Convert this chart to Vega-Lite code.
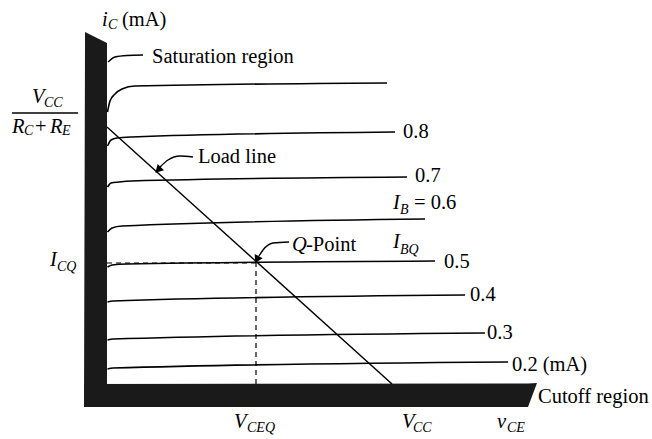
{
  "$schema": "https://vega.github.io/schema/vega-lite/v6.json",
  "autosize": {"type": "fit", "contains": "padding"},
  "width": 652,
  "height": 439,
  "padding": 0,
  "background": "white",
  "config": {"view": {"stroke": null}},
  "datasets": {
    "curves": [
      {"c": "top", "X": 0.5, "Y": 272}, {"c": "top", "X": 3, "Y": 283}, {"c": "top", "X": 8, "Y": 290}, {"c": "top", "X": 15, "Y": 295}, {"c": "top", "X": 28, "Y": 298}, {"c": "top", "X": 280, "Y": 301},
      {"c": "0.8", "X": 0.5, "Y": 238}, {"c": "0.8", "X": 4, "Y": 244}, {"c": "0.8", "X": 10, "Y": 246}, {"c": "0.8", "X": 25, "Y": 247}, {"c": "0.8", "X": 288, "Y": 252},
      {"c": "0.7", "X": 0.5, "Y": 197}, {"c": "0.7", "X": 4, "Y": 201}, {"c": "0.7", "X": 12, "Y": 202}, {"c": "0.7", "X": 25, "Y": 203}, {"c": "0.7", "X": 300, "Y": 207},
      {"c": "0.6", "X": 0.5, "Y": 152}, {"c": "0.6", "X": 5, "Y": 156}, {"c": "0.6", "X": 15, "Y": 158}, {"c": "0.6", "X": 318, "Y": 165},
      {"c": "0.5", "X": 0.5, "Y": 117}, {"c": "0.5", "X": 5, "Y": 119}, {"c": "0.5", "X": 20, "Y": 120}, {"c": "0.5", "X": 328, "Y": 123},
      {"c": "0.4", "X": 0.5, "Y": 82}, {"c": "0.4", "X": 6, "Y": 83}, {"c": "0.4", "X": 358, "Y": 89},
      {"c": "0.3", "X": 0.5, "Y": 44}, {"c": "0.3", "X": 6, "Y": 45}, {"c": "0.3", "X": 378, "Y": 51},
      {"c": "0.2", "X": 0.5, "Y": 15}, {"c": "0.2", "X": 6, "Y": 16}, {"c": "0.2", "X": 401, "Y": 22}
    ],
    "vbar": [
      {"Y": 352, "X": -22, "X2": -22},
      {"Y": 341, "X": -22, "X2": 0},
      {"Y": -23, "X": -23, "X2": 0}
    ],
    "hbar": [
      {"X": -23, "Y": 0, "Y2": -23},
      {"X": 421, "Y": 0.5, "Y2": -23},
      {"X": 430, "Y": 1, "Y2": 1}
    ],
    "load": [
      {"X": 0, "Y": 257},
      {"X": 285, "Y": 0}
    ],
    "dashV": [{"X": 149, "Y": 0, "Y2": 121}],
    "dashH": [{"X": 0, "X2": 149, "Y": 121}],
    "frac": [{"X": -95, "X2": -29, "Y": 271}],
    "pointers": [
      {"p": "sat", "o": 1, "X": 1, "Y": 322}, {"p": "sat", "o": 2, "X": 8, "Y": 327}, {"p": "sat", "o": 3, "X": 20, "Y": 328.5}, {"p": "sat", "o": 4, "X": 36, "Y": 329},
      {"p": "load", "o": 1, "X": 86, "Y": 227}, {"p": "load", "o": 2, "X": 73, "Y": 228}, {"p": "load", "o": 3, "X": 61, "Y": 224}, {"p": "load", "o": 4, "X": 53, "Y": 217},
      {"p": "q", "o": 1, "X": 182, "Y": 142}, {"p": "q", "o": 2, "X": 166, "Y": 141}, {"p": "q", "o": 3, "X": 156, "Y": 134}, {"p": "q", "o": 4, "X": 152, "Y": 128}
    ],
    "heads": [
      {"p": "load", "X": 52, "Y": 215, "ang": 225},
      {"p": "q", "X": 150.5, "Y": 125.5, "ang": 208}
    ],
    "roman": [
      {"t": "(mA)", "X": 15, "Y": 364},
      {"t": "Saturation region", "X": 45, "Y": 327},
      {"t": "+", "X": -72, "Y": 257},
      {"t": "Load line", "X": 91, "Y": 227},
      {"t": "-Point", "X": 199, "Y": 139},
      {"t": "= 0.6", "X": 307, "Y": 181},
      {"t": "0.8", "X": 296, "Y": 252},
      {"t": "0.7", "X": 308, "Y": 208},
      {"t": "0.5", "X": 337, "Y": 122},
      {"t": "0.4", "X": 363, "Y": 89},
      {"t": "0.3", "X": 380, "Y": 51},
      {"t": "0.2 (mA)", "X": 405, "Y": 19},
      {"t": "Cutoff region", "X": 431, "Y": -13}
    ],
    "italic": [
      {"t": "i", "X": -5, "Y": 364},
      {"t": "V", "X": -75, "Y": 287},
      {"t": "R", "X": -95, "Y": 257},
      {"t": "R", "X": -57, "Y": 257},
      {"t": "I", "X": -57, "Y": 124},
      {"t": "Q", "X": 185, "Y": 139},
      {"t": "I", "X": 286, "Y": 142},
      {"t": "I", "X": 286, "Y": 181},
      {"t": "V", "X": 127, "Y": -38},
      {"t": "V", "X": 295, "Y": -38},
      {"t": "v", "X": 390, "Y": -38}
    ],
    "sub": [
      {"t": "C", "X": 1, "Y": 359},
      {"t": "CC", "X": -63, "Y": 281},
      {"t": "C", "X": -83, "Y": 253},
      {"t": "E", "X": -45, "Y": 253},
      {"t": "CQ", "X": -50, "Y": 117},
      {"t": "BQ", "X": 293, "Y": 134},
      {"t": "B", "X": 293, "Y": 174},
      {"t": "CEQ", "X": 140, "Y": -44},
      {"t": "CC", "X": 306, "Y": -44},
      {"t": "CE", "X": 400, "Y": -44}
    ]
  },
  "encoding": {
    "x": {"type": "quantitative", "scale": {"domain": [-107, 545], "nice": false, "zero": false}, "axis": null},
    "y": {"type": "quantitative", "scale": {"domain": [-55, 384], "nice": false, "zero": false}, "axis": null}
  },
  "layer": [
    {
      "data": {"name": "vbar"},
      "mark": {"type": "area", "orient": "horizontal", "color": "#1a1a1a"},
      "encoding": {
        "y": {"field": "Y", "type": "quantitative"},
        "x": {"field": "X", "type": "quantitative"},
        "x2": {"field": "X2"}
      }
    },
    {
      "data": {"name": "hbar"},
      "mark": {"type": "area", "orient": "vertical", "color": "#1a1a1a"},
      "encoding": {
        "x": {"field": "X", "type": "quantitative"},
        "y": {"field": "Y", "type": "quantitative"},
        "y2": {"field": "Y2"}
      }
    },
    {
      "data": {"name": "curves"},
      "mark": {"type": "line", "color": "black", "strokeWidth": 1.6, "interpolate": "monotone"},
      "encoding": {
        "x": {"field": "X", "type": "quantitative"},
        "y": {"field": "Y", "type": "quantitative"},
        "detail": {"field": "c"}
      }
    },
    {
      "data": {"name": "load"},
      "mark": {"type": "line", "color": "black", "strokeWidth": 1.4},
      "encoding": {
        "x": {"field": "X", "type": "quantitative"},
        "y": {"field": "Y", "type": "quantitative"}
      }
    },
    {
      "data": {"name": "dashV"},
      "mark": {"type": "rule", "color": "black", "strokeWidth": 1.2, "strokeDash": [5, 4]},
      "encoding": {
        "x": {"field": "X", "type": "quantitative"},
        "y": {"field": "Y", "type": "quantitative"},
        "y2": {"field": "Y2"}
      }
    },
    {
      "data": {"name": "dashH"},
      "mark": {"type": "rule", "color": "black", "strokeWidth": 1.2, "strokeDash": [5, 4]},
      "encoding": {
        "x": {"field": "X", "type": "quantitative"},
        "x2": {"field": "X2"},
        "y": {"field": "Y", "type": "quantitative"}
      }
    },
    {
      "data": {"name": "frac"},
      "mark": {"type": "rule", "color": "black", "strokeWidth": 1.3},
      "encoding": {
        "x": {"field": "X", "type": "quantitative"},
        "x2": {"field": "X2"},
        "y": {"field": "Y", "type": "quantitative"}
      }
    },
    {
      "data": {"name": "pointers"},
      "mark": {"type": "line", "color": "black", "strokeWidth": 1.4, "interpolate": "monotone"},
      "encoding": {
        "x": {"field": "X", "type": "quantitative"},
        "y": {"field": "Y", "type": "quantitative"},
        "detail": {"field": "p"},
        "order": {"field": "o"}
      }
    },
    {
      "data": {"name": "heads"},
      "mark": {"type": "point", "shape": "triangle", "filled": true, "color": "black", "size": 80, "opacity": 1},
      "encoding": {
        "x": {"field": "X", "type": "quantitative"},
        "y": {"field": "Y", "type": "quantitative"},
        "angle": {"field": "ang", "type": "quantitative", "scale": null}
      }
    },
    {
      "data": {"name": "roman"},
      "mark": {"type": "text", "align": "left", "baseline": "middle", "font": "Liberation Serif", "fontSize": 20.5, "color": "black"},
      "encoding": {
        "x": {"field": "X", "type": "quantitative"},
        "y": {"field": "Y", "type": "quantitative"},
        "text": {"field": "t"}
      }
    },
    {
      "data": {"name": "italic"},
      "mark": {"type": "text", "align": "left", "baseline": "middle", "font": "Liberation Serif", "fontStyle": "italic", "fontSize": 20.5, "color": "black"},
      "encoding": {
        "x": {"field": "X", "type": "quantitative"},
        "y": {"field": "Y", "type": "quantitative"},
        "text": {"field": "t"}
      }
    },
    {
      "data": {"name": "sub"},
      "mark": {"type": "text", "align": "left", "baseline": "middle", "font": "Liberation Serif", "fontStyle": "italic", "fontSize": 14, "color": "black"},
      "encoding": {
        "x": {"field": "X", "type": "quantitative"},
        "y": {"field": "Y", "type": "quantitative"},
        "text": {"field": "t"}
      }
    }
  ]
}
